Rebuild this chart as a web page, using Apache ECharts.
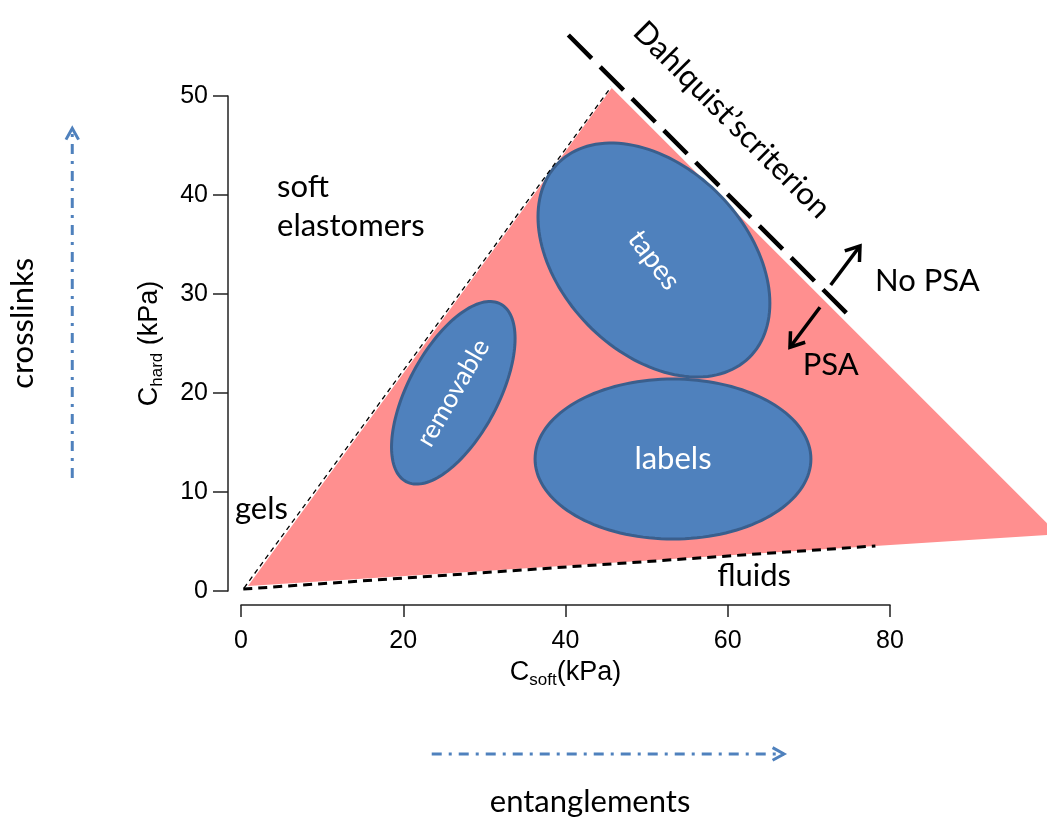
<!DOCTYPE html>
<html>
<head>
<meta charset="utf-8">
<title>viscoelastic window</title>
<script src="https://cdn.jsdelivr.net/npm/echarts@6/dist/echarts.min.js"></script>
<style>
  html, body { margin: 0; padding: 0; background: #fff; }
  #main { width: 1047px; height: 819px; }
</style>
</head>
<body>
<div id="main"></div>
<script>
// 坐标轴刻度 (kPa)
const xTicks = [0, 20, 40, 60, 80];
const yTicks = [0, 10, 20, 30, 40, 50];

// 粘弹窗口 (三角形顶点, kPa)
const windowX = [0.86, 45.7, 100.7];
const windowY = [0.5, 50.8, 5.73];

// 应用区域 (椭圆): 中心, 半轴 (按 x 轴 kPa 计), 倾角 (度, 逆时针)
const regionNames = ['tapes', 'labels', 'removable'];
const regionCx = [50.9, 53.25, 26.17];
const regionCy = [33.43, 13.33, 20.02];
const regionA = [16.8, 17.0, 12.4];
const regionB = [11.4, 9.86, 5.56];
const regionTilt = [-45.7, 0, 62];

// 边界线
const gelsX = [0.37, 45.61];
const gelsY = [0.3, 50.91];
const fluidsX = [0.28, 78.2];
const fluidsY = [0.2, 4.55];
const dahlX = [40.35, 75.16];
const dahlY = [56.16, 27.65];

// 箭头 [起点x, 起点y, 终点x, 终点y]
const psaArrows = [[72.69, 30.91, 76.3, 34.85], [71.37, 28.66, 67.67, 24.62]];
const trendArrows = [[-20.8, 11.41, -20.8, 46.74], [23.51, -16.46, 66.93, -16.46]];

// 注释文字
const noteText = ['soft', 'elastomers', 'gels', 'fluids', 'No PSA', 'PSA'];
const noteX = [4.44, 4.44, -0.74, 58.7, 78.15, 69.24];
const noteY = [40.84, 36.87, 8.25, 1.5, 31.31, 22.83];

const sideText = ['Dahlquist’scriterion', 'crosslinks', 'entanglements'];
const sideX = [60.49, -26.84, 43.03];
const sideY = [47.58, 27.04, -21.28];

const LATO = 'Lato, "Open Sans", sans-serif';
const ARIAL = '"Liberation Sans", Arial, sans-serif';
const sideRotate = { 'Dahlquist’scriterion': -45, crosslinks: 90, entanglements: 0 };
const regionTextRotate = { tapes: -53, labels: 0, removable: 60 };
const regionFont = { tapes: 28, labels: 31, removable: 26 };

var myChart = echarts.init(document.getElementById('main'));

function pairs(xs, ys) {
  return xs.map(function (x, i) { return [x, ys[i]]; });
}

function arrowItem(params, api, color, width, dash, head, spread) {
  var s = api.coord([api.value(0), api.value(1)]);
  var e = api.coord([api.value(2), api.value(3)]);
  var ang = Math.atan2(e[1] - s[1], e[0] - s[0]);
  var w = spread * Math.PI / 180;
  return {
    type: 'group',
    children: [
      {
        type: 'line',
        shape: { x1: s[0], y1: s[1], x2: e[0], y2: e[1] },
        style: { stroke: color, lineWidth: width, lineDash: dash }
      },
      {
        type: 'polyline',
        shape: {
          points: [
            [e[0] - head * Math.cos(ang - w), e[1] - head * Math.sin(ang - w)],
            [e[0], e[1]],
            [e[0] - head * Math.cos(ang + w), e[1] - head * Math.sin(ang + w)]
          ]
        },
        style: { stroke: color, lineWidth: width, fill: null }
      }
    ]
  };
}

var axisRich = {
  c: { fontSize: 27, fontFamily: ARIAL, color: '#000', lineHeight: 32 },
  s: { fontSize: 17, fontFamily: ARIAL, color: '#000', lineHeight: 32, verticalAlign: 'bottom' }
};

var option = {
  animation: false,
  backgroundColor: '#fff',
  grid: { left: 241, right: 157, top: 96, bottom: 228, outerBoundsMode: 'none' },
  xAxis: {
    type: 'value',
    min: xTicks[0],
    max: xTicks[xTicks.length - 1],
    interval: xTicks[1] - xTicks[0],
    offset: 14,
    name: '{c|C}{s|soft}{c|(kPa)}',
    nameLocation: 'middle',
    nameGap: 46,
    nameTextStyle: { rich: axisRich },
    axisLine: { show: true, onZero: false, lineStyle: { color: '#222', width: 1.5 } },
    axisTick: { show: true, length: 12, lineStyle: { color: '#222', width: 1.5 } },
    axisLabel: { margin: 24, fontSize: 25, color: '#000', fontFamily: ARIAL },
    splitLine: { show: false }
  },
  yAxis: {
    type: 'value',
    min: yTicks[0],
    max: yTicks[yTicks.length - 1],
    interval: yTicks[1] - yTicks[0],
    offset: 13,
    name: '{c|C}{s|hard}{c| (kPa)}',
    nameLocation: 'middle',
    nameRotate: 90,
    nameGap: 62,
    nameTextStyle: { rich: axisRich },
    axisLine: { show: true, onZero: false, lineStyle: { color: '#222', width: 1.5 } },
    axisTick: { show: true, length: 15, lineStyle: { color: '#222', width: 1.5 } },
    axisLabel: { margin: 20, fontSize: 25, color: '#000', fontFamily: ARIAL },
    splitLine: { show: false }
  },
  series: [
    {
      // 粘弹窗口
      type: 'custom',
      clip: false,
      silent: true,
      data: [[windowX[0], windowY[0]]],
      renderItem: function (params, api) {
        var pts = pairs(windowX, windowY).map(function (p) { return api.coord(p); });
        return { type: 'polygon', shape: { points: pts }, style: { fill: '#ff8f8f' } };
      },
      z: 1
    },
    {
      // 应用区域
      type: 'custom',
      clip: false,
      silent: true,
      data: regionCx.map(function (x, i) { return [x, regionCy[i], regionA[i], regionB[i], regionTilt[i]]; }),
      renderItem: function (params, api) {
        var c = api.coord([api.value(0), api.value(1)]);
        var a = api.size([api.value(2), 0])[0];
        var b = api.size([api.value(3), 0])[0];
        var t = -api.value(4) * Math.PI / 180;
        var pts = [];
        for (var k = 0; k < 144; k++) {
          var q = 2 * Math.PI * k / 144;
          var ex = a * Math.cos(q), ey = b * Math.sin(q);
          pts.push([c[0] + ex * Math.cos(t) - ey * Math.sin(t), c[1] + ex * Math.sin(t) + ey * Math.cos(t)]);
        }
        var name = regionNames[params.dataIndex];
        return {
          type: 'group',
          children: [
            { type: 'polygon', shape: { points: pts }, style: { fill: '#4f81bd', stroke: '#3a5f8d', lineWidth: 3 } },
            {
              type: 'text',
              x: c[0], y: c[1],
              rotation: regionTextRotate[name] * Math.PI / 180,
              style: {
                text: name, fill: '#fff', fontFamily: LATO, fontSize: regionFont[name],
                align: 'center', verticalAlign: 'middle'
              }
            }
          ]
        };
      },
      z: 2
    },
    {
      name: 'gels',
      type: 'line',
      clip: false,
      silent: true,
      symbol: 'none',
      data: pairs(gelsX, gelsY),
      lineStyle: { color: '#000', width: 1.3, type: [5, 4] },
      z: 3
    },
    {
      name: 'fluids',
      type: 'line',
      clip: false,
      silent: true,
      symbol: 'none',
      data: pairs(fluidsX, fluidsY),
      lineStyle: { color: '#000', width: 3, type: [9, 6] },
      z: 3
    },
    {
      name: 'Dahlquist',
      type: 'line',
      clip: false,
      silent: true,
      symbol: 'none',
      data: pairs(dahlX, dahlY),
      lineStyle: { color: '#000', width: 4.5, type: [33, 12] },
      z: 3
    },
    {
      type: 'custom',
      clip: false,
      silent: true,
      encode: { x: [0, 2], y: [1, 3] },
      data: psaArrows,
      renderItem: function (params, api) {
        return arrowItem(params, api, '#000', 3.5, null, 16, 35);
      },
      z: 4
    },
    {
      type: 'custom',
      clip: false,
      silent: true,
      encode: { x: [0, 2], y: [1, 3] },
      data: trendArrows,
      renderItem: function (params, api) {
        return arrowItem(params, api, '#4f81bd', 3, [10, 7, 3, 7], 13, 29);
      },
      z: 4
    },
    {
      type: 'custom',
      clip: false,
      silent: true,
      data: noteX.map(function (x, i) { return [x, noteY[i], i]; }),
      renderItem: function (params, api) {
        var p = api.coord([api.value(0), api.value(1)]);
        return {
          type: 'text', x: p[0], y: p[1],
          style: {
            text: noteText[params.dataIndex], fill: '#000', fontFamily: LATO, fontSize: 31,
            align: 'left', verticalAlign: 'middle'
          }
        };
      },
      z: 5
    },
    {
      type: 'custom',
      clip: false,
      silent: true,
      data: sideX.map(function (x, i) { return [x, sideY[i], i]; }),
      renderItem: function (params, api) {
        var p = api.coord([api.value(0), api.value(1)]);
        var txt = sideText[params.dataIndex];
        return {
          type: 'text', x: p[0], y: p[1],
          rotation: sideRotate[txt] * Math.PI / 180,
          style: {
            text: txt, fill: '#000', fontFamily: LATO, fontSize: 31,
            align: 'center', verticalAlign: 'middle'
          }
        };
      },
      z: 5
    }
  ]
};

myChart.setOption(option);
</script>
</body>
</html>
